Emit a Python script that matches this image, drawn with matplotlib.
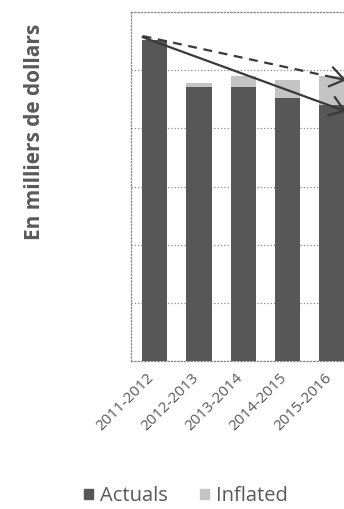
import matplotlib
matplotlib.use("Agg")
import matplotlib.pyplot as plt
from matplotlib.patches import Patch
from matplotlib.transforms import ScaledTranslation

years = ["2011-2012", "2012-2013", "2013-2014", "2014-2015", "2015-2016"]
actuals = [5.53, 4.71, 4.71, 4.53, 4.40]
inflated = [5.53, 4.79, 4.90, 4.83, 4.90]

# trend arrows (start -> end), in data units
solid_start = (-0.27, 5.57)
solid_end = (4.32, 4.29)
dashed_start = (-0.27, 5.59)
dashed_end = (4.32, 4.83)

plt.rcParams['font.family'] = ['Open Sans', 'DejaVu Sans']
txt = '#595959'

fig = plt.figure(figsize=(3.44, 5.09), dpi=100)
ax = fig.add_axes([0.381, 0.291, 0.774, 0.685])

x = list(range(len(years)))
ax.bar(x, inflated, width=0.57, color='#c4c4c4', zorder=2)
ax.bar(x, actuals, width=0.57, color='#575757', zorder=3)

# dashed trend: dashed shaft, solid open head
ax.plot([dashed_start[0], dashed_end[0]], [dashed_start[1], dashed_end[1]],
        color='#3a3a3a', lw=1.6, dashes=(4, 3), zorder=5)
head = '->,head_length=0.5,head_width=0.35'
ax.annotate('', xy=dashed_end,
            xytext=(dashed_end[0] - 0.3,
                    dashed_end[1] - 0.3 * (dashed_end[1] - dashed_start[1])
                    / (dashed_end[0] - dashed_start[0])),
            arrowprops=dict(arrowstyle=head, lw=1.6, color='#3a3a3a',
                            mutation_scale=20, shrinkA=0, shrinkB=0),
            zorder=5)
ax.annotate('', xy=solid_end, xytext=solid_start,
            arrowprops=dict(arrowstyle=head, lw=1.6, color='#3a3a3a',
                            mutation_scale=20, shrinkA=0, shrinkB=0),
            zorder=5)

ax.set_xlim(-0.53, 5.47)
ax.set_ylim(0, 6)
ax.set_yticks(range(7))
ax.set_yticklabels([])
ax.tick_params(axis='y', length=0)
ax.tick_params(axis='x', length=0, pad=4)
ax.set_xticks(x)
ax.set_xticklabels(years, rotation=45, ha='right', rotation_mode='anchor',
                   fontsize=11, color=txt)
shift = ScaledTranslation(-0.08, -0.04, fig.dpi_scale_trans)
for lbl in ax.get_xticklabels():
    lbl.set_transform(lbl.get_transform() + shift)
ax.grid(axis='y', linestyle=':', color='#8a8a8a', lw=0.9, zorder=0)
for s in ax.spines.values():
    s.set_linestyle(':')
    s.set_color('#8a8a8a')
    s.set_linewidth(0.9)

fig.text(35 / 344, 1 - 132 / 509, 'En milliers de dollars', rotation=90,
         ha='center', va='center', fontsize=15, fontweight='bold', color=txt)

handles = [Patch(color='#575757', label='Actuals'),
           Patch(color='#c4c4c4', label='Inflated')]
fig.legend(handles=handles, loc='lower center', bbox_to_anchor=(0.54, -0.03),
           ncol=2, frameon=False, fontsize=14.5, handlelength=0.45,
           handleheight=0.45, handletextpad=0.35, columnspacing=1.6,
           labelcolor=txt)

fig.savefig('out.png', dpi=100)
